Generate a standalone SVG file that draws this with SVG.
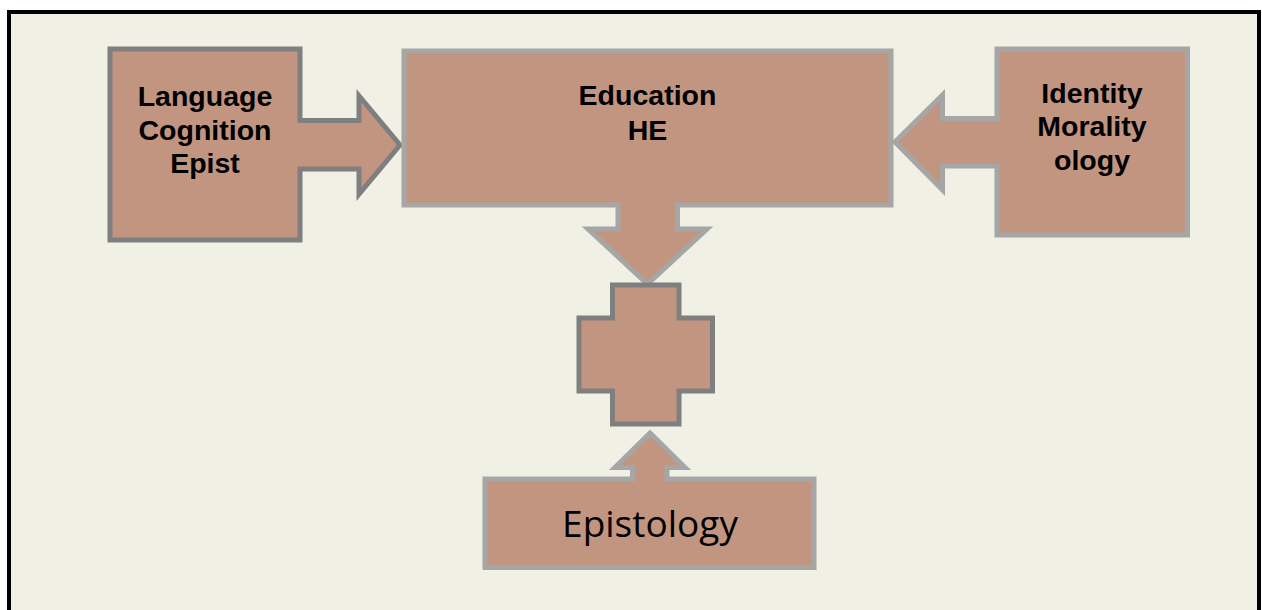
<svg xmlns="http://www.w3.org/2000/svg" width="1262" height="610" viewBox="0 0 1262 610">
  <style>
    .shape { fill: #C29581; stroke-width: 5; stroke-linejoin: miter; }
    .dark { stroke: #7F7F7F; }
    .light { stroke: #A6A6A6; }
    .bold { font-family: "Liberation Sans", Arial, sans-serif; font-weight: bold; font-size: 28.5px; fill: #000; text-anchor: middle; }
    .plain { font-family: "Open Sans", "Noto Sans", sans-serif; font-size: 37px; fill: #000; text-anchor: middle; }
  </style>
  <rect width="1262" height="610" fill="#FFFFFF"/>
  <rect x="9" y="12" width="1250" height="620" fill="#F0F0E5" stroke="#000" stroke-width="4"/>

  <g id="node-language">
    <path class="shape dark" d="M110,49 H300 V120.5 H359 V96 L400,145 L359,194 V169 H300 V240 H110 Z"/>
    <text class="bold" x="205" y="106">Language</text>
    <text class="bold" x="205" y="139.5">Cognition</text>
    <text class="bold" x="205" y="173">Epist</text>
  </g>

  <g id="node-identity">
    <path class="shape light" d="M997,49 H1187.5 V235 H997 V166 H942.5 V190 L895,142 L942.5,95 V118.5 H997 Z"/>
    <text class="bold" x="1092" y="102.5">Identity</text>
    <text class="bold" x="1092" y="136">Morality</text>
    <text class="bold" x="1092" y="169.5">ology</text>
  </g>

  <g id="node-education">
    <path class="shape light" d="M404,51 H891 V205 H677.5 V229 H707 L647.5,284 L588,229 H618 V205 H404 Z"/>
    <text class="bold" x="647.5" y="105">Education</text>
    <text class="bold" x="647.5" y="139.5">HE</text>
  </g>

  <g id="node-cross">
    <path class="shape dark" d="M612.5,285 H679 V318 H712.5 V391 H679 V424 H612.5 V391 H579 V318 H612.5 Z"/>
  </g>

  <g id="node-epistology">
    <path class="shape light" d="M485,479 H632.5 V467.5 H615 L650,433 L685,467.5 H667 V479 H814 V567.5 H485 Z"/>
    <text class="plain" x="650" y="537">Epistology</text>
  </g>

  <g id="connectors"></g>
</svg>
